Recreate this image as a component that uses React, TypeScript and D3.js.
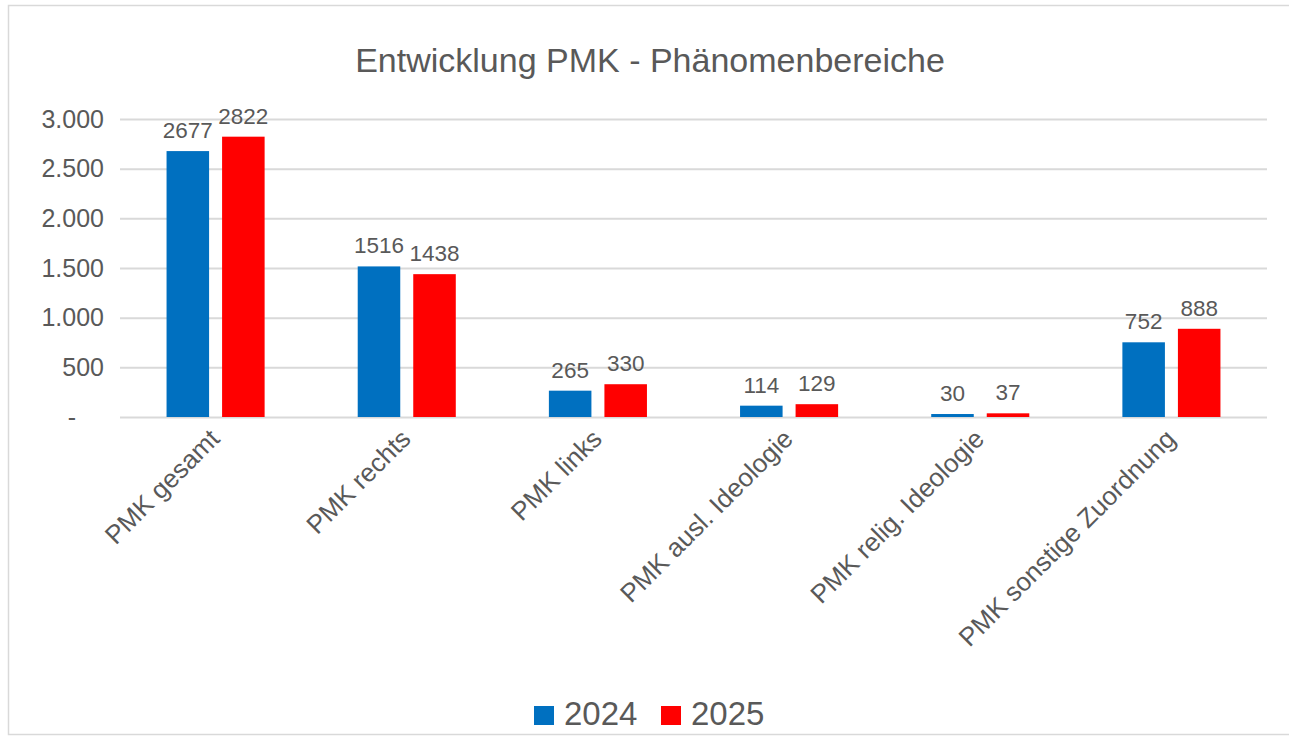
import React, { useEffect, useRef } from "react";
import * as d3 from "d3";

const categories = [
  "PMK gesamt",
  "PMK rechts",
  "PMK links",
  "PMK ausl. Ideologie",
  "PMK relig. Ideologie",
  "PMK sonstige Zuordnung",
];
const seriesNames = ["2024", "2025"];
const values2024 = [2677, 1516, 265, 114, 30, 752];
const values2025 = [2822, 1438, 330, 129, 37, 888];
const yTicks = [0, 500, 1000, 1500, 2000, 2500, 3000];

const colors: Record<string, string> = {
  "2024": "#0070C0",
  "2025": "#FF0000",
};
const textColor = "#595959";
const font = "'Liberation Sans', Arial, sans-serif";

export default function App() {
  const ref = useRef<SVGSVGElement | null>(null);

  useEffect(() => {
    const width = 1289;
    const height = 737;
    const left = 120;
    const right = 1267;
    const top = 119;
    const bottom = 417;

    const svg = d3.select(ref.current);
    svg.selectAll("*").remove();
    svg.attr("width", width).attr("height", height).style("font-family", font);

    // frame (right edge falls outside the picture)
    svg
      .append("rect")
      .attr("x", 8.5)
      .attr("y", 5.5)
      .attr("width", width + 10)
      .attr("height", 729)
      .attr("fill", "white")
      .attr("stroke", "#d9d9d9")
      .attr("stroke-width", 1.5);

    const rows = categories.map((c, i) => ({
      name: c,
      "2024": values2024[i],
      "2025": values2025[i],
    }));

    const x0 = d3
      .scaleBand<string>()
      .domain(categories)
      .range([left, right])
      .paddingInner(0.487)
      .paddingOuter(0.2435);
    const x1 = d3
      .scaleBand<string>()
      .domain(seriesNames)
      .range([0, x0.bandwidth()])
      .paddingInner(0.234);
    const y = d3.scaleLinear().domain([0, 3000]).range([bottom, top]);

    // title
    svg
      .append("text")
      .attr("x", 650)
      .attr("y", 72)
      .attr("text-anchor", "middle")
      .attr("font-size", 34)
      .attr("fill", textColor)
      .text("Entwicklung PMK - Phänomenbereiche");

    // grid + y labels
    const yAxis = svg
      .append("g")
      .attr("transform", `translate(${left},0)`)
      .call(
        d3
          .axisLeft(y)
          .tickValues(yTicks)
          .tickSize(-(right - left))
          .tickPadding(16)
          .tickFormat((d) =>
            +d === 0 ? "-" : d3.format(",")(+d).replace(/,/g, "."),
          ),
      );
    yAxis.select(".domain").remove();
    yAxis.selectAll(".tick line").attr("stroke", "#d9d9d9").attr("stroke-width", 2);
    yAxis
      .selectAll(".tick text")
      .attr("font-size", 25)
      .attr("font-family", font)
      .attr("fill", textColor)
      .attr("x", (d: any) => (+d === 0 ? -44 : -16));

    // bars
    const groups = svg
      .selectAll("g.cat")
      .data(rows)
      .join("g")
      .attr("class", "cat")
      .attr("transform", (d) => `translate(${x0(d.name)},0)`);

    groups
      .selectAll("rect")
      .data((d) => seriesNames.map((s) => ({ key: s, value: (d as any)[s] as number })))
      .join("rect")
      .attr("x", (d) => x1(d.key)!)
      .attr("y", (d) => y(d.value))
      .attr("width", x1.bandwidth())
      .attr("height", (d) => bottom - y(d.value))
      .attr("fill", (d) => colors[d.key]);

    groups
      .selectAll("text")
      .data((d) => seriesNames.map((s) => ({ key: s, value: (d as any)[s] as number })))
      .join("text")
      .attr("x", (d) => x1(d.key)! + x1.bandwidth() / 2)
      .attr("y", (d) => y(d.value) - 13)
      .attr("text-anchor", "middle")
      .attr("font-size", 22.5)
      .attr("fill", textColor)
      .text((d) => d.value);

    // x labels
    svg
      .append("g")
      .selectAll("text")
      .data(categories)
      .join("text")
      .attr(
        "transform",
        (d) => `translate(${x0(d)! + x0.bandwidth() / 2 - 1},${434}) rotate(-45)`,
      )
      .attr("text-anchor", "end")
      .attr("dy", "0.35em")
      .attr("font-size", 26)
      .attr("fill", textColor)
      .text((d) => d);

    // legend
    const legend = svg.append("g");
    const legendX = [534, 661];
    seriesNames.forEach((s, i) => {
      legend
        .append("rect")
        .attr("x", legendX[i])
        .attr("y", 706)
        .attr("width", 20)
        .attr("height", 19)
        .attr("fill", colors[s]);
      legend
        .append("text")
        .attr("x", legendX[i] + 30)
        .attr("y", 725)
        .attr("font-size", 33)
        .attr("fill", textColor)
        .text(s);
    });
  }, []);

  return (
    <div style={{ position: "absolute", left: 0, top: 0 }}>
      <svg ref={ref} style={{ display: "block" }} />
    </div>
  );
}
